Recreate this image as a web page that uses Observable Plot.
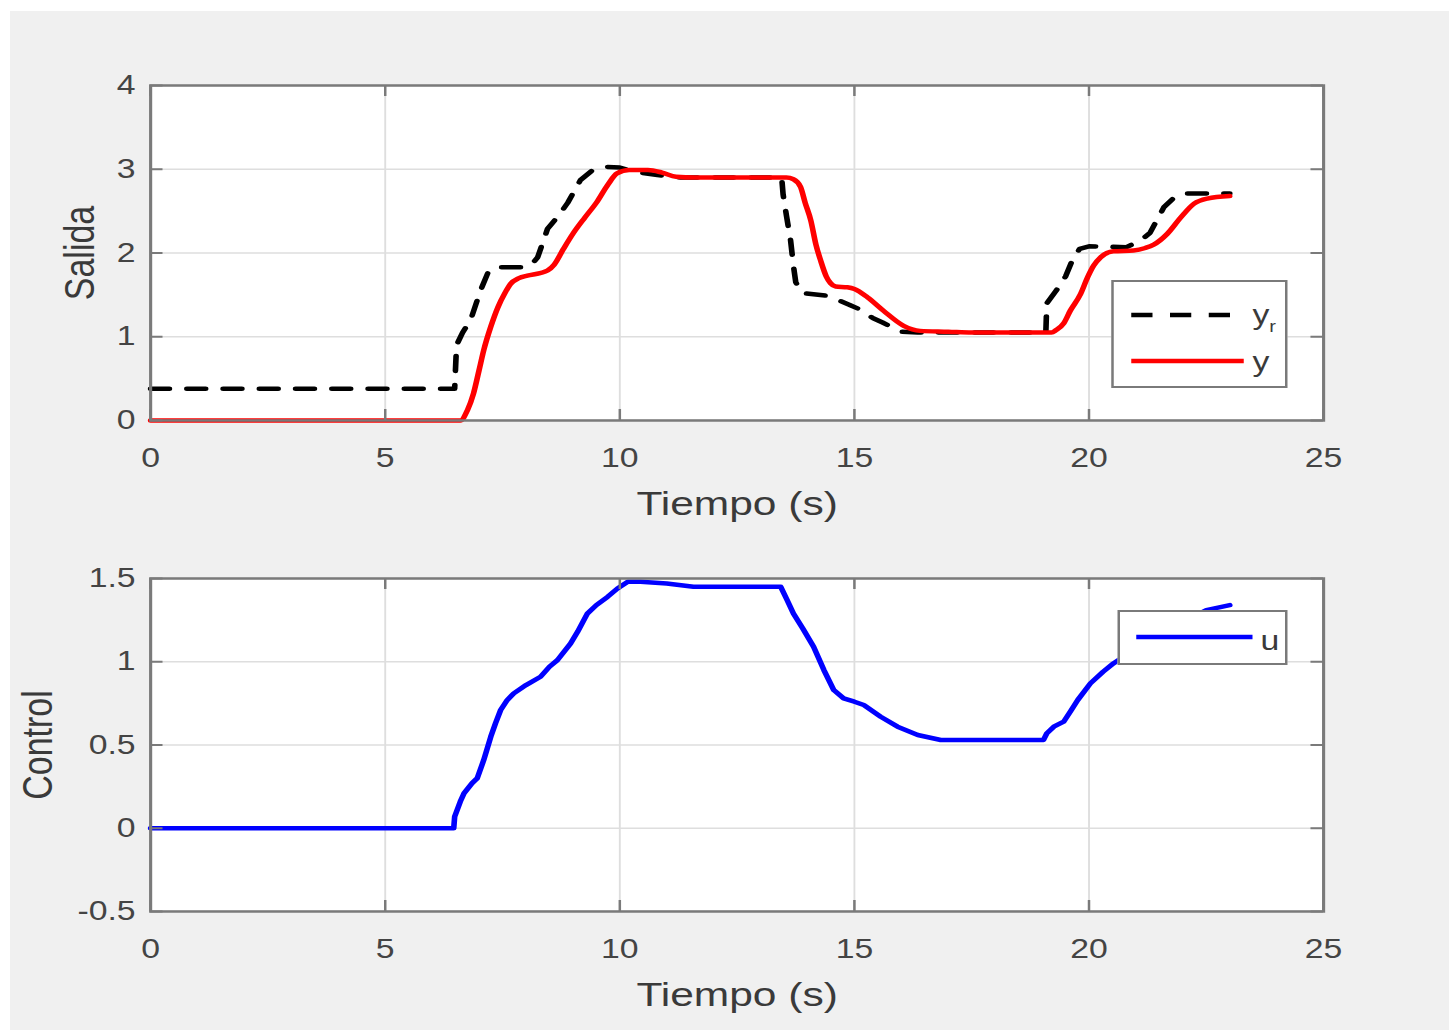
<!DOCTYPE html>
<html><head><meta charset="utf-8">
<script src="https://cdn.jsdelivr.net/npm/d3@7"></script>
<script src="https://cdn.jsdelivr.net/npm/@observablehq/plot@0.6"></script>
<style>
html,body{margin:0;padding:0;background:#fff;}
body{width:1449px;height:1030px;position:relative;overflow:hidden;font-family:"Liberation Sans",Arial,sans-serif;}
#bg{position:absolute;left:10px;top:11px;width:1439px;height:1019px;background:#f0f0f0;}
#stage{position:absolute;left:0;top:0;width:1159.2px;height:1030px;transform:scaleX(1.25);transform-origin:0 0;}
.panel{position:absolute;left:0;}
.legend{position:absolute;background:#fff;border:2px solid #7a7a7a;box-sizing:border-box;}
.legend svg{position:absolute;left:-2px;top:-2px;overflow:visible;}
</style></head><body>
<div id="bg"></div>
<div id="stage"></div>
<script>
// ---- data ----
const xTicks = [0, 5, 10, 15, 20, 25];
const yTicksTop = [0, 1, 2, 3, 4];
const yTicksBottom = [-0.5, 0, 0.5, 1, 1.5];
const xLabel = "Tiempo (s)";
const yLabelTop = "Salida";
const yLabelBottom = "Control";

// reference y_r (black dashed)
const tYr = [0, 6.48, 6.52, 6.65, 6.82, 7.03, 7.2, 7.35, 7.9, 8.1, 8.25, 8.46, 8.7, 8.89, 9.16, 9.4, 9.65, 10.0, 10.3, 10.8, 11.3, 13.45, 13.48, 13.55, 13.64, 13.7, 13.75, 13.9, 14.4, 14.6, 14.9, 15.1, 15.4, 15.6, 16.0, 16.35, 17.2, 19.08, 19.1, 19.3, 19.5, 19.65, 19.8, 20.0, 20.8, 21.1, 21.3, 21.6, 21.85, 22.1, 23.0];
const yrVals = [0.38, 0.38, 0.9, 1.05, 1.2, 1.55, 1.78, 1.83, 1.83, 1.85, 1.95, 2.29, 2.45, 2.6, 2.87, 2.98, 3.03, 3.02, 2.97, 2.93, 2.9, 2.9, 2.7, 2.45, 2.15, 1.85, 1.65, 1.52, 1.49, 1.45, 1.38, 1.33, 1.22, 1.17, 1.06, 1.05, 1.05, 1.05, 1.4, 1.55, 1.72, 1.92, 2.05, 2.08, 2.07, 2.15, 2.24, 2.55, 2.68, 2.71, 2.71];

// output y (red)
const tY = [0, 6.6, 6.75, 6.88, 7.0, 7.1, 7.25, 7.4, 7.55, 7.67, 7.85, 8.03, 8.3, 8.46, 8.6, 8.8, 9.0, 9.25, 9.5, 9.75, 9.94, 10.2, 10.6, 10.9, 11.2, 11.6, 13.55, 13.7, 13.85, 13.95, 14.07, 14.18, 14.28, 14.4, 14.49, 14.6, 14.85, 15.0, 15.28, 15.62, 16.05, 16.4, 17.0, 17.5, 19.2, 19.3, 19.46, 19.6, 19.82, 19.97, 20.1, 20.25, 20.52, 20.95, 21.2, 21.38, 21.67, 21.95, 22.24, 22.52, 23.0];
const yVals = [0, 0, 0.12, 0.32, 0.6, 0.84, 1.12, 1.35, 1.52, 1.63, 1.7, 1.73, 1.76, 1.79, 1.86, 2.05, 2.23, 2.42, 2.6, 2.82, 2.95, 2.99, 2.99, 2.96, 2.91, 2.9, 2.9, 2.88, 2.79, 2.6, 2.39, 2.1, 1.91, 1.72, 1.64, 1.6, 1.59, 1.57, 1.47, 1.31, 1.13, 1.07, 1.06, 1.05, 1.05, 1.08, 1.16, 1.31, 1.51, 1.71, 1.85, 1.95, 2.02, 2.03, 2.06, 2.1, 2.23, 2.42, 2.59, 2.65, 2.68];

// control u (blue)
const tU = [0, 6.46, 6.48, 6.6, 6.68, 6.85, 6.96, 7.1, 7.25, 7.35, 7.46, 7.6, 7.74, 8.0, 8.31, 8.5, 8.67, 8.95, 9.1, 9.31, 9.5, 9.74, 9.95, 10.17, 10.44, 11.0, 11.57, 13.43, 13.55, 13.7, 13.9, 14.13, 14.35, 14.56, 14.77, 15.0, 15.2, 15.56, 15.92, 16.35, 16.84, 19.03, 19.1, 19.25, 19.46, 19.6, 19.76, 20.03, 20.3, 20.52, 21.0, 21.5, 22.0, 22.5, 23.0];
const uVals = [0, 0, 0.07, 0.16, 0.21, 0.27, 0.3, 0.41, 0.55, 0.63, 0.71, 0.77, 0.81, 0.86, 0.91, 0.97, 1.01, 1.11, 1.18, 1.29, 1.34, 1.39, 1.44, 1.48, 1.48, 1.47, 1.45, 1.45, 1.38, 1.29, 1.2, 1.09, 0.95, 0.83, 0.78, 0.76, 0.74, 0.67, 0.61, 0.56, 0.53, 0.53, 0.57, 0.61, 0.64, 0.7, 0.77, 0.87, 0.94, 0.99, 1.08, 1.16, 1.24, 1.31, 1.34];

const yrData = tYr.map((t, i) => ({t, v: yrVals[i]}));
const yData = tY.map((t, i) => ({t, v: yVals[i]}));
const uData = tU.map((t, i) => ({t, v: uVals[i]}));

// ---- layout ----
const S = 1.25;               // horizontal stretch of the reference picture
const W = 1449 / S;
const ML = 150 / S;
const MR = W - 1323 / S;
const AXIS = "#7a7a7a";
const GRID = "#dedede";
const TXT = "#3a3a3a";
const FONT = "'Liberation Sans', Arial, Helvetica, sans-serif";

function panel({height, marginTop, marginBottom, yDomain, yTicks, marks, yLabel, labelDx}) {
  const frameW = W - ML - MR;
  const frameH = height - marginTop - marginBottom;
  return Plot.plot({
    width: W, height, marginLeft: ML, marginRight: MR, marginTop, marginBottom,
    style: {background: "transparent", fontFamily: FONT, fontSize: "27px", color: "#444", overflow: "visible"},
    x: {domain: [0, 25], ticks: xTicks},
    y: {domain: yDomain, ticks: yTicks},
    marks: [
      Plot.frame({fill: "white", stroke: null}),
      Plot.gridX(xTicks, {stroke: GRID, strokeOpacity: 1, strokeWidth: 1.5}),
      Plot.gridY(yTicks, {stroke: GRID, strokeOpacity: 1, strokeWidth: 1.5}),
      ...marks,
      Plot.tickX(xTicks, {x: d => d, insetTop: frameH - 11, stroke: AXIS, strokeWidth: 2}),
      Plot.tickX(xTicks, {x: d => d, insetBottom: frameH - 11, stroke: AXIS, strokeWidth: 2}),
      Plot.tickY(yTicks, {y: d => d, insetRight: frameW - 10, stroke: AXIS, strokeWidth: 2}),
      Plot.tickY(yTicks, {y: d => d, insetLeft: frameW - 10, stroke: AXIS, strokeWidth: 2}),
      Plot.frame({stroke: AXIS, strokeWidth: 2.5}),
      Plot.axisX(xTicks, {tickSize: 0, tickPadding: 27, label: null, tickFormat: d => String(d)}),
      Plot.axisY(yTicks, {tickSize: 0, tickPadding: 12, label: null, tickFormat: d => String(d)}),
      Plot.text([xLabel], {text: d => d, frameAnchor: "bottom", textAnchor: "middle", dy: 95, lineAnchor: "bottom", fontSize: 34, fill: TXT}),
      Plot.text([yLabel], {text: d => d, frameAnchor: "left", textAnchor: "middle", dx: labelDx, rotate: -90, lineAnchor: "middle", fontSize: 34, fill: TXT})
    ]
  });
}

const stage = document.getElementById("stage");

const topPlot = panel({
  height: 540, marginTop: 85, marginBottom: 120,
  yDomain: [0, 4], yTicks: yTicksTop, yLabel: yLabelTop, labelDx: -56,
  marks: [
    Plot.line(yrData, {x: "t", y: "v", stroke: "black", strokeWidth: 4.5, strokeDasharray: "15,14"}),
    Plot.line(yData, {x: "t", y: "v", stroke: "#ff0000", strokeWidth: 4.5, curve: "monotone-x"})
  ]
});
topPlot.classList.add("panel");
topPlot.style.top = "0px";
stage.appendChild(topPlot);

const bottomPlot = panel({
  height: 490, marginTop: 38, marginBottom: 119,
  yDomain: [-0.5, 1.5], yTicks: yTicksBottom, yLabel: yLabelBottom, labelDx: -90,
  marks: [
    Plot.line(uData, {x: "t", y: "v", stroke: "#0000ff", strokeWidth: 4.5})
  ]
});
bottomPlot.classList.add("panel");
bottomPlot.style.top = "540px";
stage.appendChild(bottomPlot);

// ---- legends ----
function legend(left, topPx, w, h, entries) {
  const div = document.createElement("div");
  div.className = "legend";
  Object.assign(div.style, {left: left + "px", top: topPx + "px", width: w + "px", height: h + "px"});
  let svg = `<svg width="${w}" height="${h}" xmlns="http://www.w3.org/2000/svg" style="font-family:${FONT};">`;
  for (const e of entries) {
    svg += `<line x1="${e.x1}" x2="${e.x2}" y1="${e.y}" y2="${e.y}" stroke="${e.color}" stroke-width="4.5"${e.dash ? ` stroke-dasharray="${e.dash}"` : ""}/>`;
    svg += `<text x="${e.tx}" y="${e.ty}" font-size="27" fill="${TXT}">${e.label}${e.sub ? `<tspan font-size="16" dy="8">${e.sub}</tspan>` : ""}</text>`;
  }
  svg += `</svg>`;
  div.innerHTML = svg;
  stage.appendChild(div);
}
legend(888.8, 280, 141.6, 108, [
  {x1: 16, x2: 106, y: 35, color: "black", dash: "17,14", tx: 113, ty: 44, label: "y", sub: "r"},
  {x1: 16, x2: 106, y: 81, color: "#ff0000", tx: 113, ty: 91, label: "y"}
]);
legend(893.6, 610, 136.8, 55, [
  {x1: 15, x2: 108, y: 27, color: "#0000ff", tx: 114.5, ty: 40, label: "u"}
]);
</script>
</body></html>
